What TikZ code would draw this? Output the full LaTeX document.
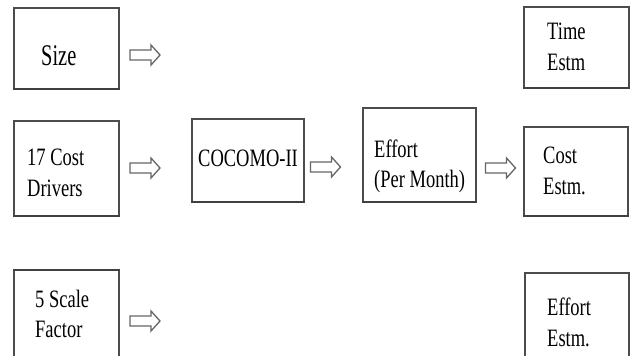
\documentclass[tikz,border=0pt]{standalone}
\usepackage{fontspec}
\setmainfont{Liberation Serif}[FakeStretch=0.74]
\newfontfamily\sizefont{Liberation Serif}[FakeStretch=0.68]
\begin{document}
\begin{tikzpicture}[x=1pt,y=-1pt,
  boxframe/.style={draw=black!70,line width=1.3pt},
  botedge/.style={draw=black!75,line width=2.2pt},
  lbl/.style={anchor=base west,inner sep=0pt,font=\fontsize{25}{31.5}\selectfont},
  biglbl/.style={anchor=base west,inner sep=0pt,font=\sizefont\fontsize{30}{36}\selectfont},
  harrow/.pic={\draw[draw=black!60,line width=1.3pt,fill=white,line join=miter]
     (-15,-5) -- (6,-5) -- (6,-10) -- (15,0) -- (6,10) -- (6,5) -- (-15,5) -- cycle;}]
\useasboundingbox (0,0) rectangle (633,356);
\clip (0,0) rectangle (633,356);
\newcommand{\mybox}[5]{%
  \draw[boxframe] (#2,#4) rectangle (#3,#5);
  \draw[botedge] (#2-0.6,#5) -- (#3+0.6,#5);
  \coordinate (#1) at ({(#2+#3)/2},{(#4+#5)/2});}
% boxes
\mybox{size}{14}{119}{8}{89}
\mybox{time}{524}{629}{7}{88}
\mybox{drv}{14}{119}{121}{216}
\mybox{coc}{192}{304}{119}{202}
\mybox{eff}{363}{476}{108}{202}
\mybox{cst}{524}{628}{127}{216}
\draw[boxframe] (14,370) -- (14,270) -- (119,270) -- (119,370);
\draw[botedge] (13.4,270) -- (119.6,270);
\draw[boxframe] (525,370) -- (525,273) -- (629,273) -- (629,370);
\coordinate (scl) at (66.5,320);
\coordinate (ees) at (577,320);
% labels
\node[biglbl] (tsize) at (41,65) {Size};
\node[lbl] (ttime) at (547,39) {\begin{tabular}[t]{@{}l@{}}Time\\Estm\end{tabular}};
\node[lbl] (tdrv) at (27,165) {\begin{tabular}[t]{@{}l@{}}17 Cost\\Drivers\end{tabular}};
\node[lbl] (tcoc) at (198,166) {COCOMO-II};
\node[lbl] (teff) at (374,157) {\fontsize{25}{30}\selectfont\begin{tabular}[t]{@{}l@{}}Effort\\(Per Month)\end{tabular}};
\node[lbl] (tcst) at (543,163) {\begin{tabular}[t]{@{}l@{}}Cost\\Estm.\end{tabular}};
\node[lbl] (tscl) at (35,307) {\fontsize{25}{30.5}\selectfont\begin{tabular}[t]{@{}l@{}}5 Scale\\Factor\end{tabular}};
\node[lbl] (tees) at (547,315) {\begin{tabular}[t]{@{}l@{}}Effort\\Estm.\end{tabular}};
% arrows
\pic at (145,55) {harrow};
\pic at (145,168) {harrow};
\pic at (325.5,167) {harrow};
\pic at (500.5,168) {harrow};
\pic at (145,321) {harrow};
\end{tikzpicture}
\end{document}
